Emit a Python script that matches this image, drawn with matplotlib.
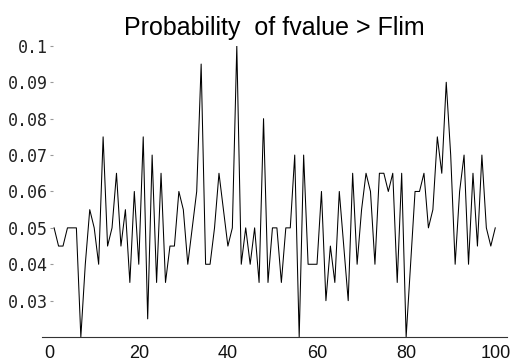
import matplotlib
matplotlib.use("Agg")
import matplotlib.pyplot as plt

# probability per trial (trials 1..100)
trials = list(range(1, 101))
prob = [
    0.05, 0.045, 0.045, 0.05, 0.05, 0.05, 0.02, 0.04, 0.055, 0.05,
    0.04, 0.075, 0.045, 0.05, 0.065, 0.045, 0.055, 0.035, 0.06, 0.04,
    0.075, 0.025, 0.07, 0.035, 0.065, 0.035, 0.045, 0.045, 0.06, 0.055,
    0.04, 0.05, 0.06, 0.095, 0.04, 0.04, 0.05, 0.065, 0.055, 0.045,
    0.05, 0.1, 0.04, 0.05, 0.04, 0.05, 0.035, 0.08, 0.035, 0.05,
    0.05, 0.035, 0.05, 0.05, 0.07, 0.02, 0.07, 0.04, 0.04, 0.04,
    0.06, 0.03, 0.045, 0.035, 0.06, 0.045, 0.03, 0.065, 0.04, 0.055,
    0.065, 0.06, 0.04, 0.065, 0.065, 0.06, 0.065, 0.035, 0.065, 0.02,
    0.04, 0.06, 0.06, 0.065, 0.05, 0.055, 0.075, 0.065, 0.09, 0.07,
    0.04, 0.06, 0.07, 0.04, 0.065, 0.045, 0.07, 0.05, 0.045, 0.05,
]
xticks = [0, 20, 40, 60, 80, 100]
yticks = [0.03, 0.04, 0.05, 0.06, 0.07, 0.08, 0.09, 0.1]
ytick_labels = ["0.03", "0.04", "0.05", "0.06", "0.07", "0.08", "0.09", "0.1"]

fig = plt.figure(figsize=(5.13, 3.64), dpi=100)
ax = fig.add_axes([0.082, 0.074, 0.906, 0.800])

ax.plot(trials, prob, color="black", linewidth=0.75)

ax.set_xlim(-1.7, 102.6)
ax.set_ylim(0.02, 0.1)

for side in ["top", "right"]:
    ax.spines[side].set_visible(False)
ax.spines["left"].set_position(("data", 0))
ax.spines["left"].set_visible(False)
ax.spines["bottom"].set_color("#333333")
ax.spines["bottom"].set_linewidth(0.8)

ax.set_xticks(xticks)
ax.set_xticklabels([str(t) for t in xticks], fontfamily="Liberation Sans", fontsize=13,
                   color="#111111")
ax.tick_params(axis="x", length=0, pad=6)

ax.set_yticks(yticks)
ax.set_yticklabels(ytick_labels, fontfamily="DejaVu Sans Mono", fontsize=12, color="#222222")
ax.tick_params(axis="y", direction="in", length=2, width=0.8, color="#999999", pad=1)

ax.set_title("Probability  of fvalue > Flim", fontfamily="Liberation Sans", fontsize=18, pad=8)

fig.savefig("out.png", dpi=100)
